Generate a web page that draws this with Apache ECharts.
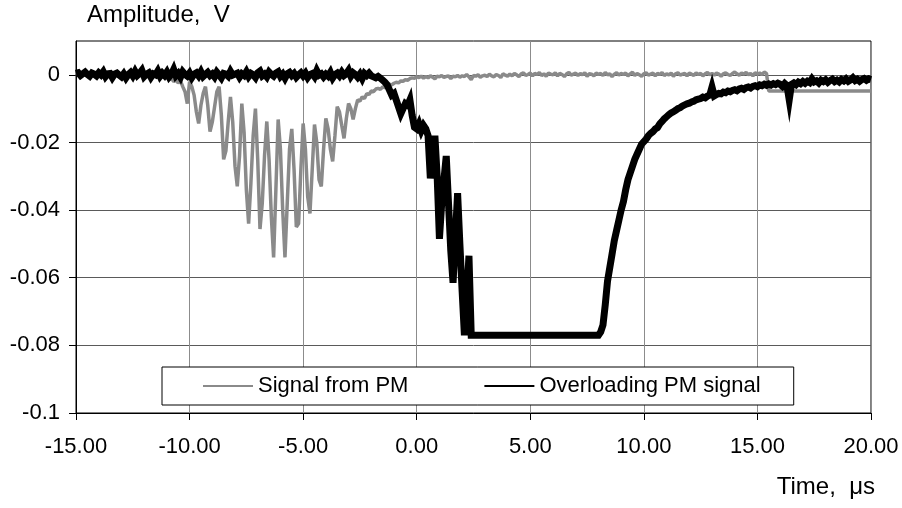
<!DOCTYPE html>
<html>
<head>
<meta charset="utf-8">
<title>PM signal</title>
<script src="https://cdn.jsdelivr.net/npm/echarts@6/dist/echarts.min.js"></script>
<style>
  html, body { margin: 0; padding: 0; background: #fff; }
  #chart { width: 902px; height: 508px; }
</style>
</head>
<body>
<div id="chart"></div>
<script>
// Oscilloscope records, sampled every 0.1 µs starting at -15 µs. Amplitudes in mV.
const sampleStart = -15;
const sampleStep = 0.1;

const seriesNames = ['Signal from PM', 'Overloading PM signal'];
const xTicks = [-15, -10, -5, 0, 5, 10, 15, 20];
const yTicks = [-0.1, -0.08, -0.06, -0.04, -0.02, 0];

// "Signal from PM": quiet baseline (-15.0 .. -11.0 µs)
const pmQuiet = [
  0.3, 0.1, 0.4, -0.2, 0.2, 0.5, 0.0, 0.3, -0.1, 0.2,
  0.4, 0.1, -0.3, 0.2, 0.3, 0.0, 0.5, 0.1, -0.2, 0.3,
  0.2, -0.1, 0.4, 0.0, 0.2, 0.3, -0.2, 0.1, 0.4, 0.0,
  0.2, -0.3, 0.1, 0.3, -0.1, 0.0, -0.4, -0.2, -0.6, -0.3,
  -0.8
];
// oscillating burst and recovery (-10.9 .. 0.0 µs)
const pmBurst = [
  -1.5, -1.0, -2.0, -1.6, -2.4, -1.8, -3.5, -5.0, -8.5, -2.0,
  -3.5, -6.0, -11.0, -14.4, -9.0, -5.5, -3.5, -9.0, -16.8, -14.0,
  -9.5, -5.0, -3.5, -12.0, -25.0, -22.5, -14.0, -6.5, -14.0, -27.0,
  -33.0, -24.0, -8.5, -17.0, -34.0, -44.0, -32.0, -18.0, -10.0, -25.0,
  -45.6, -38.0, -24.0, -13.8, -25.0, -42.0, -54.0, -34.0, -13.2, -22.0,
  -40.0, -54.0, -38.0, -22.0, -16.0, -28.0, -45.0, -44.0, -28.0, -14.4,
  -22.0, -36.0, -41.0, -28.0, -14.7, -20.0, -31.0, -33.0, -22.0, -12.9,
  -16.0, -22.0, -25.6, -18.0, -9.4, -11.0, -15.0, -18.8, -13.0, -8.5,
  -10.0, -13.2, -10.0, -7.4, -7.8, -6.5, -7.0, -5.6, -5.8, -4.8,
  -5.0, -4.2, -4.0, -4.3, -3.6, -3.8, -3.1, -2.8, -3.0, -2.5,
  -2.2, -2.4, -1.8, -1.9, -1.4, -1.6, -1.1, -0.9, -1.0, -0.6
];
// baseline after the burst (0.1 .. 15.4 µs)
const pmAfter = [
  -0.8, -0.4, -1.0, -0.5, -0.9, -0.3, -0.7, -1.2, -0.4, -0.6,
  -0.2, -0.8, -0.5, -0.3, -1.1, -0.4, -0.6, -0.2, -0.7, -0.3,
  -0.5, 0.1, -0.6, -1.4, -0.2, -0.4, 0.0, -0.7, -0.3, -0.1,
  -0.5, 0.2, -0.3, -0.6, 0.1, -0.2, -0.8, 0.3, -0.1, -0.4,
  0.2, -0.3, 0.4, 0.0, -0.5, 0.3, 0.6, -0.2, 0.1, 0.5,
  -0.3, 0.4, 0.1, 0.7, -0.2, 0.3, -0.4, 0.5, 0.2, 0.0,
  0.6, -0.3, 0.4, 0.1, -0.5, 0.3, 0.7, -0.1, 0.2, 0.5,
  -0.2, 0.4, 0.0, 0.6, -0.4, 0.3, 0.2, -0.3, 0.5, 0.1,
  0.4, -0.2, 0.7, 0.0, 0.3, -0.5, 0.2, 0.6, -0.1, 0.4,
  0.1, 0.5, -0.3, 0.3, 0.8, -0.2, 0.4, 0.0, -0.4, 0.3,
  0.6, -0.1, 0.2, 0.5, -0.3, 0.4, 0.1, 0.7, -0.2, 0.3,
  0.0, 0.5, -0.4, 0.3, 0.6, -0.1, 0.2, 0.4, -0.3, 0.5,
  0.2, -0.2, 0.6, 0.1, 0.4, -0.3, 0.3, 0.7, 0.0, 0.4,
  -0.1, 0.5, 0.2, -0.4, 0.3, 0.6, 0.1, -0.2, 0.4, 0.8,
  0.3, -0.1, 0.5, 0.2, 0.7, 0.0, 0.4, -0.3, 0.6, 0.3,
  0.5, 0.1, 0.8, 0.4
];
// offset level at the end of the record (15.5 .. 20.0 µs)
const pmEnd = [
  -4.8, -4.8, -4.8, -4.8, -4.8, -4.8, -4.8, -4.8, -4.8, -4.8,
  -4.8, -4.8, -4.8, -4.8, -4.8, -4.8, -4.8, -4.8, -4.8, -4.8,
  -4.8, -4.8, -4.8, -4.8, -4.8, -4.8, -4.8, -4.8, -4.8, -4.8,
  -4.8, -4.8, -4.8, -4.8, -4.8, -4.8, -4.8, -4.8, -4.8, -4.8,
  -4.8, -4.8, -4.8, -4.8, -4.8, -4.8
];

// "Overloading PM signal": baseline (-15.0 .. -2.0 µs)
const ovQuiet = [
  0.4, 0.6, -0.2, 0.3, 0.8, 0.1, -0.4, 0.5, 0.2, -0.3,
  0.6, 0.0, 0.9, -0.5, 0.3, 0.4, -0.8, 0.2, 0.5, -0.1,
  -0.6, 0.3, -0.9, 0.1, 0.7, -0.3, 1.0, -0.2, 0.4, 1.3,
  -0.5, 0.2, 0.6, -0.7, 0.3, 0.0, 1.1, -0.4, 0.5, -0.2,
  0.8, -0.6, 0.2, 1.6, -0.3, 0.4, -0.7, 0.9, 0.1, -0.4,
  0.5, -0.8, 0.2, 0.6, -0.3, 0.9, -0.5, 0.1, 0.7, -0.2,
  0.3, -0.6, 0.8, 0.0, -0.9, 0.4, 0.2, -0.4, 1.0, -0.1,
  0.2, 0.5, -0.7, 0.3, -0.2, 0.9, -0.5, 0.4, 0.0, -0.8,
  0.6, 1.1, -0.3, 0.2, -0.6, 0.8, 0.1, -0.4, 0.5, 0.9,
  -0.5, 0.2, -1.0, 0.3, 0.7, -0.2, 0.4, -0.7, 0.0, 0.6,
  -0.3, 0.5, -0.8, 0.1, 0.4, -0.5, 1.2, -0.1, 0.3, -0.6,
  0.2, -0.4, 0.7, -0.9, 0.1, 0.5, -0.3, 0.8, -0.2, 0.3,
  1.3, -0.4, 0.6, 0.1, -0.7, 0.2, -1.1, 0.4, -0.2, 0.5,
  -0.3
];
// fall into saturation (-1.9 .. 2.4 µs)
const ovFall = [
  -0.6, -0.9, -0.5, -1.0, -1.6, -2.2, -3.0, -4.5, -6.0, -5.5,
  -7.5, -9.5, -11.5, -10.0, -8.5, -9.0, -7.4, -12.0, -15.5, -16.0,
  -14.5, -16.5, -15.0, -16.0, -18.0, -30.6, -25.0, -18.0, -30.0, -48.5,
  -38.0, -31.0, -24.0, -38.0, -52.0, -61.5, -48.0, -35.0, -50.0, -64.0,
  -77.0, -66.0, -53.5, -77.0
];
// saturated level (2.5 .. 8.0 µs)
const ovSaturated = [
  -77.0, -77.0, -77.0, -77.0, -77.0, -77.0, -77.0, -77.0, -77.0, -77.0,
  -77.0, -77.0, -77.0, -77.0, -77.0, -77.0, -77.0, -77.0, -77.0, -77.0,
  -77.0, -77.0, -77.0, -77.0, -77.0, -77.0, -77.0, -77.0, -77.0, -77.0,
  -77.0, -77.0, -77.0, -77.0, -77.0, -77.0, -77.0, -77.0, -77.0, -77.0,
  -77.0, -77.0, -77.0, -77.0, -77.0, -77.0, -77.0, -77.0, -77.0, -77.0,
  -77.0, -77.0, -77.0, -77.0, -77.0, -77.0
];
// recovery (8.1 .. 20.0 µs)
const ovRecovery = [
  -76.0, -74.0, -68.0, -61.0, -57.0, -53.0, -49.0, -46.0, -43.0, -40.0,
  -37.5, -34.0, -31.0, -29.0, -27.0, -25.0, -23.5, -22.0, -20.5, -19.8,
  -19.0, -18.0, -17.3, -16.8, -16.0, -15.6, -14.5, -13.8, -13.0, -12.4,
  -11.8, -11.3, -10.9, -10.5, -10.0, -9.7, -9.2, -8.9, -8.6, -8.4,
  -8.0, -7.8, -7.4, -7.2, -7.0, -6.6, -6.8, -6.3, -6.0, -3.6,
  -6.2, -5.8, -5.5, -5.6, -5.1, -5.3, -4.8, -5.0, -4.6, -4.4,
  -4.7, -4.2, -4.0, -4.3, -3.8, -3.6, -3.9, -3.4, -3.2, -3.5,
  -3.0, -3.2, -2.8, -3.1, -2.7, -3.0, -2.6, -2.9, -2.5, -2.8,
  -3.4, -2.6, -3.2, -7.4, -2.8, -2.4, -2.9, -2.2, -2.6, -2.0,
  -2.5, -1.9, -2.3, -1.2, -2.1, -1.8, -2.4, -1.6, -2.0, -1.5,
  -2.2, -1.7, -1.3, -2.0, -1.6, -2.1, -1.4, -1.8, -1.2, -1.9,
  -1.5, -0.9, -1.7, -1.3, -1.9, -1.4, -1.1, -1.6, -1.2, -1.4
];

// pair each sample (mV) with its time (µs), converting to volts
function toPoints(samplesMv) {
  return samplesMv.map((mv, i) => [
    +(sampleStart + i * sampleStep).toFixed(2),
    mv / 1000
  ]);
}

const pmSignal = toPoints([].concat(pmQuiet, pmBurst, pmAfter, pmEnd));
const overloadSignal = toPoints([].concat(ovQuiet, ovFall, ovSaturated, ovRecovery));

const FONT = '"Liberation Sans", Arial, sans-serif';
const chart = echarts.init(document.getElementById('chart'), null, { renderer: 'canvas' });

chart.setOption({
  animation: false,
  backgroundColor: '#ffffff',
  grid: {
    left: 76, right: 31, top: 41, bottom: 95,
    show: true, borderColor: '#000', borderWidth: 1, backgroundColor: 'transparent'
  },
  legend: {
    left: 162, top: 367,
    orient: 'horizontal',
    backgroundColor: '#fff',
    borderColor: '#000', borderWidth: 1, borderRadius: 0,
    padding: [8, 33, 8, 40],
    itemGap: 75, itemWidth: 50, itemHeight: 14,
    itemStyle: { opacity: 0 },
    textStyle: { fontFamily: FONT, fontSize: 22, color: '#000' },
    data: seriesNames
  },
  xAxis: {
    type: 'value',
    min: xTicks[0], max: xTicks[xTicks.length - 1], interval: 5,
    axisLine: { onZero: false, lineStyle: { color: '#000', width: 1 } },
    axisTick: { show: true, inside: false, length: 7, lineStyle: { color: '#000' } },
    axisLabel: {
      margin: 23, fontFamily: FONT, fontSize: 22, color: '#000',
      formatter: v => v.toFixed(2)
    },
    splitLine: { show: true, lineStyle: { color: '#8c8c8c', width: 1 } }
  },
  yAxis: {
    type: 'value',
    min: -0.1, max: 0.01, interval: 0.02,
    axisLine: { show: true, onZero: false, lineStyle: { color: '#000', width: 1 } },
    axisTick: { show: true, inside: false, length: 7, lineStyle: { color: '#000' }, customValues: yTicks },
    axisLabel: {
      margin: 16, fontFamily: FONT, fontSize: 22, color: '#000',
      customValues: yTicks,
      formatter: v => (Math.abs(v) < 1e-9 ? '0' : String(+v.toFixed(2)))
    },
    splitLine: { show: true, lineStyle: { color: '#5a5a5a', width: 1 } }
  },
  graphic: [
    {
      type: 'text', left: 87, top: 3,
      style: { text: 'Amplitude,  V', font: '24px ' + FONT, fill: '#000' }
    },
    {
      type: 'text', right: 27, top: 475,
      style: { text: 'Time,  \u03bcs', font: '24px ' + FONT, fill: '#000' }
    }
  ],
  series: [
    {
      name: seriesNames[0], type: 'line', data: pmSignal,
      showSymbol: false, symbol: 'none',
      lineStyle: { color: '#8a8a8a', width: 3.5 },
      itemStyle: { color: '#8a8a8a' },
      z: 2
    },
    {
      name: seriesNames[1], type: 'line', data: overloadSignal,
      showSymbol: false, symbol: 'none',
      lineStyle: { color: '#000', width: 7, join: 'miter' },
      itemStyle: { color: '#000' },
      z: 3
    }
  ]
});
</script>
</body>
</html>
